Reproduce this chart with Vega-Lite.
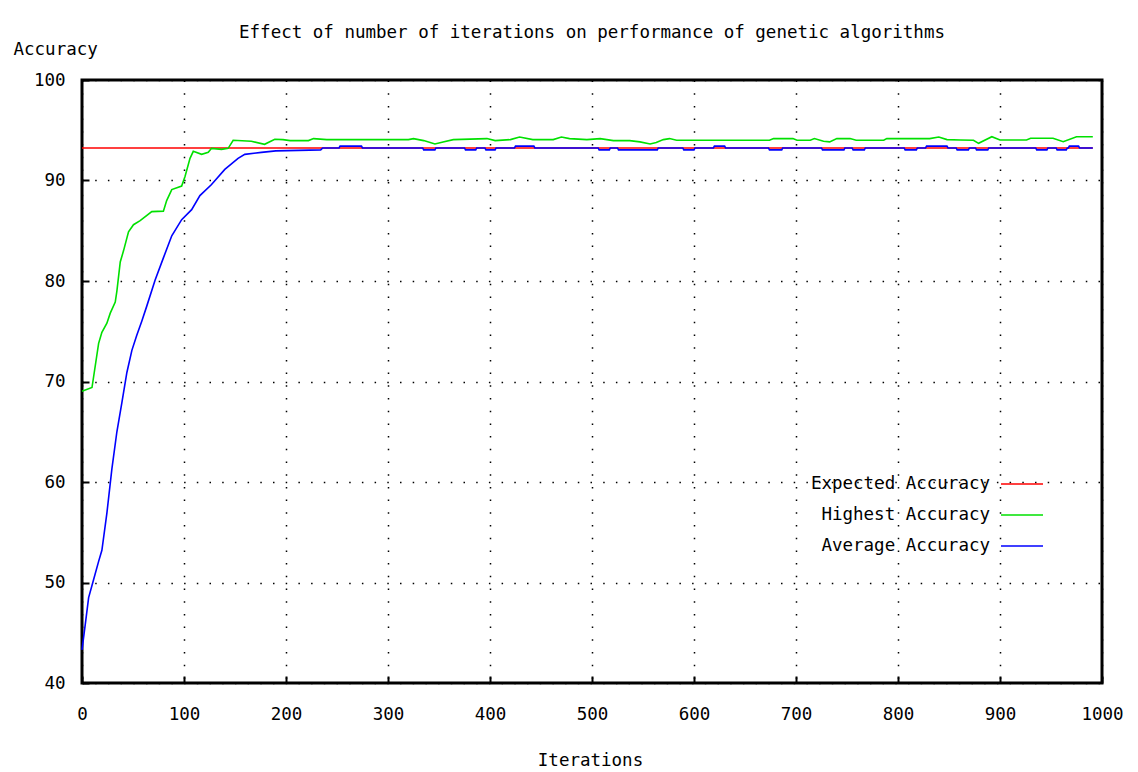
{
  "$schema": "https://vega.github.io/schema/vega-lite/v6.json",
  "autosize": "none",
  "width": 1020,
  "height": 603,
  "padding": {"left": 82, "top": 80, "right": 36, "bottom": 89},
  "background": "#ffffff",
  "title": {
    "text": "Effect of number of iterations on performance of genetic algorithms",
    "frame": "group",
    "anchor": "middle",
    "offset": -10,
    "baseline": "middle",
    "font": "DejaVu Sans Mono",
    "fontSize": 17.5,
    "fontWeight": "normal",
    "color": "#000000"
  },
  "config": {
    "view": {"stroke": "#000000", "strokeWidth": 3},
    "font": "DejaVu Sans Mono",
    "axis": {
      "domain": false,
      "grid": true,
      "gridColor": "#000000",
      "gridDash": [1.5, 11.2],
      "gridWidth": 1.5,
      "gridOpacity": 1,
      "ticks": true,
      "tickSize": -7,
      "tickWidth": 2,
      "tickColor": "#000000",
      "labelFont": "DejaVu Sans Mono",
      "labelFontSize": 17.5,
      "labelColor": "#000000",
      "titleFont": "DejaVu Sans Mono",
      "titleFontSize": 17.5,
      "titleFontWeight": "normal",
      "titleColor": "#000000",
      "labelOverlap": false,
      "labelFlush": false
    }
  },
  "datasets": {
    "expected": [{"iter": 0, "acc": 93.24}, {"iter": 991, "acc": 93.24}],
    "highest": [
      {"iter": 0, "acc": 69.04}, {"iter": 9.8, "acc": 69.4}, {"iter": 16.3, "acc": 73.8}, {"iter": 19.5, "acc": 74.9},
      {"iter": 24.4, "acc": 75.8}, {"iter": 27.7, "acc": 76.8}, {"iter": 32.6, "acc": 77.9}, {"iter": 34.2, "acc": 79.0},
      {"iter": 37.5, "acc": 81.9}, {"iter": 40.7, "acc": 83.0}, {"iter": 45.6, "acc": 84.9}, {"iter": 50.5, "acc": 85.6},
      {"iter": 57, "acc": 86.0}, {"iter": 68.4, "acc": 86.9}, {"iter": 79.8, "acc": 86.95}, {"iter": 83, "acc": 88.0},
      {"iter": 88, "acc": 89.1}, {"iter": 97.7, "acc": 89.45}, {"iter": 101, "acc": 90.4}, {"iter": 105.9, "acc": 92.2},
      {"iter": 109.1, "acc": 92.9}, {"iter": 117.3, "acc": 92.6}, {"iter": 123.8, "acc": 92.8}, {"iter": 127, "acc": 93.2},
      {"iter": 136.8, "acc": 93.1}, {"iter": 143.3, "acc": 93.2}, {"iter": 148.2, "acc": 94.0}, {"iter": 166, "acc": 93.9},
      {"iter": 179, "acc": 93.6}, {"iter": 189, "acc": 94.1}, {"iter": 197, "acc": 94.07}, {"iter": 204, "acc": 93.97},
      {"iter": 222, "acc": 93.97}, {"iter": 227, "acc": 94.17}, {"iter": 240, "acc": 94.07}, {"iter": 320, "acc": 94.07},
      {"iter": 325, "acc": 94.17}, {"iter": 335, "acc": 93.97}, {"iter": 346, "acc": 93.64}, {"iter": 354, "acc": 93.84},
      {"iter": 364, "acc": 94.07}, {"iter": 397, "acc": 94.17}, {"iter": 405, "acc": 93.97}, {"iter": 420, "acc": 94.07},
      {"iter": 429, "acc": 94.33}, {"iter": 442, "acc": 94.07}, {"iter": 462, "acc": 94.07}, {"iter": 470, "acc": 94.33},
      {"iter": 478, "acc": 94.17}, {"iter": 495, "acc": 94.07}, {"iter": 508, "acc": 94.17}, {"iter": 521, "acc": 93.97},
      {"iter": 537, "acc": 93.97}, {"iter": 547, "acc": 93.84}, {"iter": 557, "acc": 93.64}, {"iter": 563, "acc": 93.78},
      {"iter": 570, "acc": 94.07}, {"iter": 576, "acc": 94.17}, {"iter": 583, "acc": 94.0}, {"iter": 674, "acc": 94.0},
      {"iter": 678, "acc": 94.17}, {"iter": 697, "acc": 94.17}, {"iter": 701, "acc": 94.0}, {"iter": 714, "acc": 94.0},
      {"iter": 718, "acc": 94.17}, {"iter": 727, "acc": 93.9}, {"iter": 733, "acc": 93.84}, {"iter": 740, "acc": 94.17},
      {"iter": 753, "acc": 94.17}, {"iter": 759, "acc": 94.0}, {"iter": 786, "acc": 94.0}, {"iter": 789, "acc": 94.17},
      {"iter": 831, "acc": 94.17}, {"iter": 840, "acc": 94.33}, {"iter": 848, "acc": 94.07}, {"iter": 861, "acc": 94.03},
      {"iter": 874, "acc": 94.0}, {"iter": 879, "acc": 93.7}, {"iter": 892, "acc": 94.36}, {"iter": 900, "acc": 94.03},
      {"iter": 926, "acc": 94.03}, {"iter": 930, "acc": 94.2}, {"iter": 952, "acc": 94.2}, {"iter": 962, "acc": 93.86},
      {"iter": 975, "acc": 94.36}, {"iter": 991, "acc": 94.36}
    ],
    "average": [
      {"iter": 0, "acc": 43.3}, {"iter": 3.3, "acc": 45.9}, {"iter": 6.5, "acc": 48.5}, {"iter": 11.4, "acc": 50.3},
      {"iter": 16.3, "acc": 52.1}, {"iter": 19.5, "acc": 53.2}, {"iter": 24.4, "acc": 56.9}, {"iter": 29.3, "acc": 61.3},
      {"iter": 34.2, "acc": 65.0}, {"iter": 39.1, "acc": 67.9}, {"iter": 44, "acc": 70.9}, {"iter": 48.9, "acc": 73.1},
      {"iter": 53.7, "acc": 74.6}, {"iter": 58.6, "acc": 76.0}, {"iter": 63.5, "acc": 77.5}, {"iter": 71.7, "acc": 80.1},
      {"iter": 79.8, "acc": 82.3}, {"iter": 88, "acc": 84.5}, {"iter": 97.7, "acc": 86.1}, {"iter": 107.5, "acc": 87.1},
      {"iter": 115.6, "acc": 88.5}, {"iter": 127, "acc": 89.6}, {"iter": 140, "acc": 91.1}, {"iter": 153, "acc": 92.2},
      {"iter": 159.6, "acc": 92.6}, {"iter": 175.9, "acc": 92.8}, {"iter": 190, "acc": 92.95}, {"iter": 234, "acc": 93.05},
      {"iter": 236, "acc": 93.24}, {"iter": 252, "acc": 93.24}, {"iter": 253, "acc": 93.42}, {"iter": 274, "acc": 93.42},
      {"iter": 275, "acc": 93.24}, {"iter": 334, "acc": 93.24}, {"iter": 335, "acc": 93.05}, {"iter": 346, "acc": 93.05},
      {"iter": 347, "acc": 93.24}, {"iter": 375, "acc": 93.24}, {"iter": 376, "acc": 93.05}, {"iter": 386, "acc": 93.05},
      {"iter": 387, "acc": 93.24}, {"iter": 395, "acc": 93.24}, {"iter": 396, "acc": 93.05}, {"iter": 405, "acc": 93.05},
      {"iter": 406, "acc": 93.24}, {"iter": 424, "acc": 93.24}, {"iter": 425, "acc": 93.42}, {"iter": 443, "acc": 93.42},
      {"iter": 444, "acc": 93.24}, {"iter": 506, "acc": 93.24}, {"iter": 507, "acc": 93.05}, {"iter": 517, "acc": 93.05},
      {"iter": 518, "acc": 93.24}, {"iter": 525, "acc": 93.24}, {"iter": 526, "acc": 93.05}, {"iter": 564, "acc": 93.05},
      {"iter": 565, "acc": 93.24}, {"iter": 589, "acc": 93.24}, {"iter": 590, "acc": 93.05}, {"iter": 600, "acc": 93.05},
      {"iter": 601, "acc": 93.24}, {"iter": 619, "acc": 93.24}, {"iter": 620, "acc": 93.42}, {"iter": 630, "acc": 93.42},
      {"iter": 631, "acc": 93.24}, {"iter": 673, "acc": 93.24}, {"iter": 674, "acc": 93.05}, {"iter": 686, "acc": 93.05},
      {"iter": 687, "acc": 93.24}, {"iter": 725, "acc": 93.24}, {"iter": 726, "acc": 93.05}, {"iter": 747, "acc": 93.05},
      {"iter": 748, "acc": 93.24}, {"iter": 755, "acc": 93.24}, {"iter": 756, "acc": 93.05}, {"iter": 767, "acc": 93.05},
      {"iter": 768, "acc": 93.24}, {"iter": 806, "acc": 93.24}, {"iter": 807, "acc": 93.05}, {"iter": 818, "acc": 93.05},
      {"iter": 819, "acc": 93.24}, {"iter": 827, "acc": 93.24}, {"iter": 828, "acc": 93.42}, {"iter": 848, "acc": 93.42},
      {"iter": 849, "acc": 93.24}, {"iter": 857, "acc": 93.24}, {"iter": 858, "acc": 93.05}, {"iter": 869, "acc": 93.05},
      {"iter": 870, "acc": 93.24}, {"iter": 876, "acc": 93.24}, {"iter": 877, "acc": 93.05}, {"iter": 888, "acc": 93.05},
      {"iter": 889, "acc": 93.24}, {"iter": 935, "acc": 93.24}, {"iter": 936, "acc": 93.05}, {"iter": 946, "acc": 93.05},
      {"iter": 947, "acc": 93.24}, {"iter": 955, "acc": 93.24}, {"iter": 956, "acc": 93.05}, {"iter": 965, "acc": 93.05},
      {"iter": 966, "acc": 93.24}, {"iter": 967, "acc": 93.24}, {"iter": 968, "acc": 93.42}, {"iter": 977, "acc": 93.42},
      {"iter": 978, "acc": 93.24}, {"iter": 991, "acc": 93.24}
    ]
  },
  "encoding": {
    "x": {
      "field": "iter",
      "type": "quantitative",
      "scale": {"domain": [0, 1000], "nice": false, "zero": false},
      "axis": {
        "values": [0, 100, 200, 300, 400, 500, 600, 700, 800, 900, 1000],
        "format": "d",
        "labelBaseline": "top",
        "labelPadding": 29,
        "title": "Iterations",
        "titleX": 508,
        "titleY": 77,
        "titleAlign": "center",
        "titleBaseline": "middle"
      }
    },
    "y": {
      "field": "acc",
      "type": "quantitative",
      "scale": {"domain": [40, 100], "nice": false, "zero": false},
      "axis": {
        "values": [40, 50, 60, 70, 80, 90, 100],
        "labelPadding": 24,
        "title": "Accuracy",
        "titleAngle": 0,
        "titleAlign": "left",
        "titleBaseline": "middle",
        "titleX": -69,
        "titleY": -31
      }
    }
  },
  "layer": [
    {
      "data": {"name": "expected"},
      "mark": {"type": "line", "strokeWidth": 1.6, "interpolate": "linear"},
      "encoding": {
        "color": {
          "datum": "Expected Accuracy",
          "type": "nominal",
          "scale": {
            "domain": ["Expected Accuracy", "Highest Accuracy", "Average Accuracy"],
            "range": ["#ff0000", "#00e000", "#0000ff"]
          },
          "legend": {
            "title": null,
            "orient": "none",
            "legendX": 918,
            "legendY": 382,
            "padding": 0,
            "direction": "vertical",
            "symbolType": "stroke",
            "symbolSize": 1764,
            "symbolStrokeWidth": 1.6,
            "rowPadding": 0,
            "labelAlign": "right",
            "labelBaseline": "middle",
            "labelOffset": -54,
            "labelFont": "DejaVu Sans Mono",
            "labelFontSize": 17.5,
            "labelColor": "#000000",
            "labelLimit": 400
          }
        }
      }
    },
    {
      "data": {"name": "highest"},
      "mark": {"type": "line", "strokeWidth": 1.6, "interpolate": "linear"},
      "encoding": {"color": {"datum": "Highest Accuracy", "type": "nominal"}}
    },
    {
      "data": {"name": "average"},
      "mark": {"type": "line", "strokeWidth": 1.6, "interpolate": "linear"},
      "encoding": {"color": {"datum": "Average Accuracy", "type": "nominal"}}
    }
  ]
}
